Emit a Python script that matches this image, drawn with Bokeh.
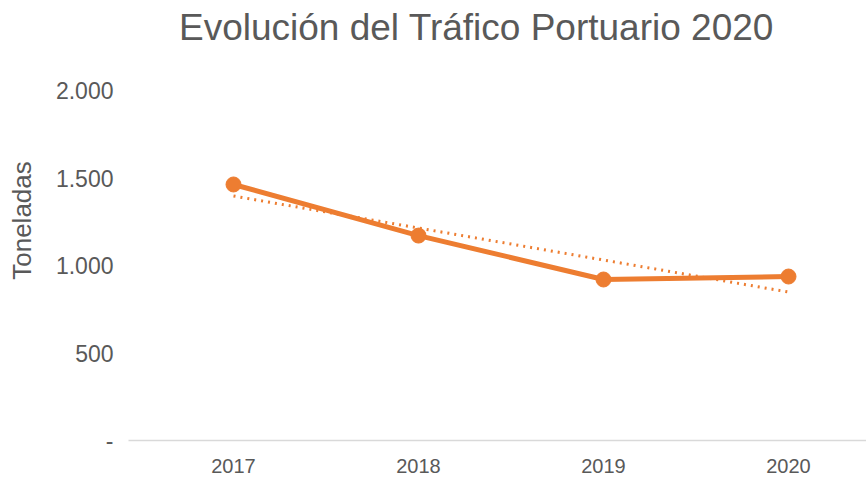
import numpy as np
from bokeh.plotting import figure
from bokeh.models import Range1d, FixedTicker, Label
from bokeh.embed import file_html
from bokeh.resources import INLINE

years = ["2017", "2018", "2019", "2020"]
toneladas = [1463, 1171, 920, 937]
y_ticks = [0, 500, 1000, 1500, 2000]
y_tick_labels = ["-", "500", "1.000", "1.500", "2.000"]
title_text = "Evolución del Tráfico Portuario 2020"
y_label = "Toneladas"

xs = list(range(len(years)))
coef = np.polyfit(xs, toneladas, 1)
trend = [coef[0] * x + coef[1] for x in xs]

ORANGE = "#ED7D31"
GREY = "#595959"
FONT = "Liberation Sans"

p = figure(width=866, height=480, output_backend="svg", toolbar_location=None,
           x_range=Range1d(-0.5676, 3.4216), y_range=Range1d(0, 2514.3),
           min_border_left=128, min_border_right=0, min_border_top=0,
           min_border_bottom=40)
p.outline_line_color = None
p.grid.visible = False

p.line(xs, trend, line_color=ORANGE, line_width=3, line_dash="2 5")
p.line(xs, toneladas, line_color=ORANGE, line_width=5)
p.scatter(xs, toneladas, size=15, fill_color=ORANGE, line_color=ORANGE)

p.xaxis.ticker = FixedTicker(ticks=xs)
p.xaxis.major_label_overrides = {i: y for i, y in enumerate(years)}
p.xaxis.axis_line_color = "#D9D9D9"
p.xaxis.axis_line_width = 1.5
p.xaxis.major_tick_line_color = None
p.xaxis.minor_tick_line_color = None
p.xaxis.major_label_standoff = 12
p.xaxis.major_label_text_font = FONT
p.xaxis.major_label_text_font_size = "20px"
p.xaxis.major_label_text_color = GREY

p.yaxis.ticker = FixedTicker(ticks=y_ticks)
p.yaxis.major_label_overrides = {t: l for t, l in zip(y_ticks, y_tick_labels)}
p.yaxis.axis_line_color = None
p.yaxis.major_tick_line_color = None
p.yaxis.minor_tick_line_color = None
p.yaxis.major_label_standoff = 9
p.yaxis.major_label_text_font = FONT
p.yaxis.major_label_text_font_size = "23px"
p.yaxis.major_label_text_color = GREY
p.yaxis.axis_label = y_label
p.yaxis.axis_label_text_font = FONT
p.yaxis.axis_label_text_font_size = "26px"
p.yaxis.axis_label_text_font_style = "normal"
p.yaxis.axis_label_text_color = GREY
p.yaxis.axis_label_standoff = 16

p.add_layout(Label(x=1.3135, y=2360, text=title_text, text_align="center",
                   text_baseline="middle", text_font=FONT,
                   text_font_size="37px", text_color=GREY))

open("out.html", "w").write(file_html(p, INLINE))
